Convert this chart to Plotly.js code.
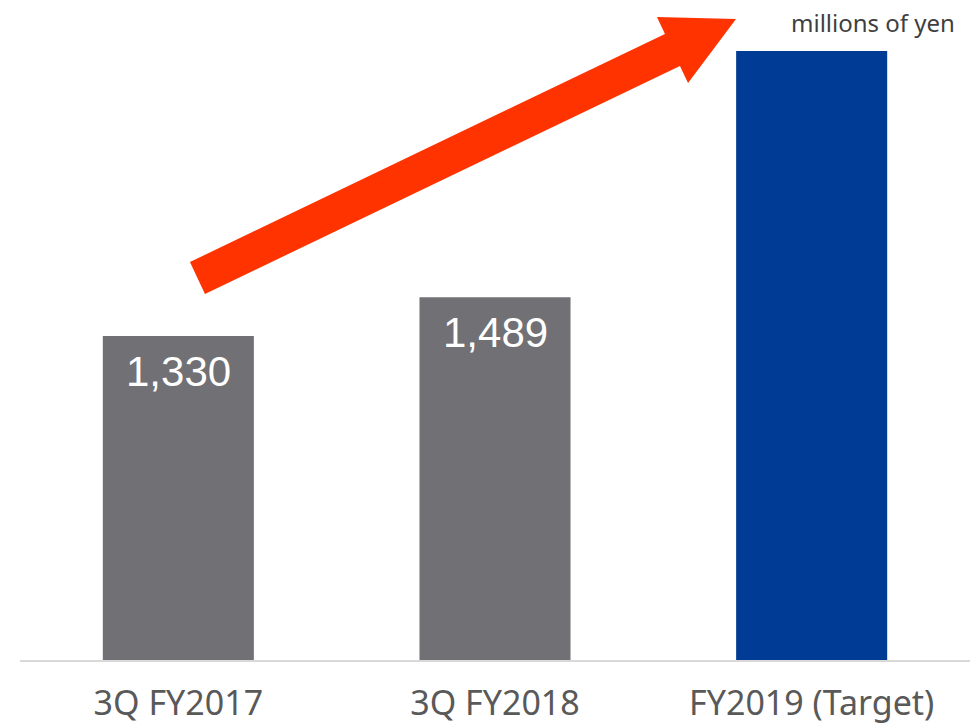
<!DOCTYPE html>
<html>
<head>
<meta charset="utf-8">
<script src="https://cdn.plot.ly/plotly-3.0.1.min.js"></script>
<style>html,body{margin:0;padding:0;background:#fff;}#chart{width:977px;height:724px;}</style>
</head>
<body>
<div id="chart"></div>
<script>
// ---- data ----
var categories = ['3Q FY2017', '3Q FY2018', 'FY2019 (Target)'];
var values = [1330, 1489, 2500];
var labeled = [true, true, false];
var barColors = ['#717075', '#717075', '#003B95'];
var unitText = 'millions of yen';

// ---- layout geometry ----
var W = 977, H = 724;
var M = {l: 20, r: 7, t: 30, b: 64};
var plotW = W - M.l - M.r, plotH = H - M.t - M.b;
var yMax = 2586;

function px(x) { return (x - M.l) / plotW; }
function py(y) { return (H - M.b - y) / plotH; }

var arrowPts = [[190,262],[665,34],[657,17],[736,19],[688,83],[680,66],[205,294]];
var path = arrowPts.map(function(p, i){ return (i ? 'L' : 'M') + px(p[0]).toFixed(4) + ',' + py(p[1]).toFixed(4); }).join(' ') + ' Z';

var annotations = [];
for (var i = 0; i < categories.length; i++) {
  if (!labeled[i]) continue;
  annotations.push({
    x: categories[i], y: values[i], xref: 'x', yref: 'y',
    text: values[i].toLocaleString('en-US'),
    showarrow: false, yanchor: 'top', yshift: -10,
    font: {family: 'Liberation Sans, Arial, sans-serif', size: 42, color: '#ffffff'}
  });
}
annotations.push({
  x: px(957), y: py(22), xref: 'paper', yref: 'paper',
  xanchor: 'right', yanchor: 'middle', showarrow: false,
  text: unitText,
  font: {family: 'Noto Sans, sans-serif', size: 24, color: '#3f3f3f'}
});

var trace = {
  type: 'bar', x: categories, y: values,
  marker: {color: barColors, line: {width: 0}},
  hoverinfo: 'none'
};

var layout = {
  width: W, height: H,
  margin: M,
  paper_bgcolor: '#ffffff', plot_bgcolor: '#ffffff',
  showlegend: false,
  bargap: 0.523,
  xaxis: {
    type: 'category', range: [-0.5, 2.5],
    showline: true, linecolor: '#d9d9d9', linewidth: 1.5,
    showgrid: false, zeroline: false, ticks: '',
    ticklabelstandoff: 13,
    tickfont: {family: 'Noto Sans, sans-serif', size: 34, color: '#595959'}
  },
  yaxis: {
    range: [0, yMax], visible: false, showgrid: false, zeroline: false
  },
  shapes: [{
    type: 'path', xref: 'paper', yref: 'paper', path: path,
    fillcolor: '#FF3300', line: {width: 0}, layer: 'above'
  }],
  annotations: annotations
};

Plotly.newPlot('chart', [trace], layout, {displayModeBar: false, staticPlot: true});
</script>
</body>
</html>
